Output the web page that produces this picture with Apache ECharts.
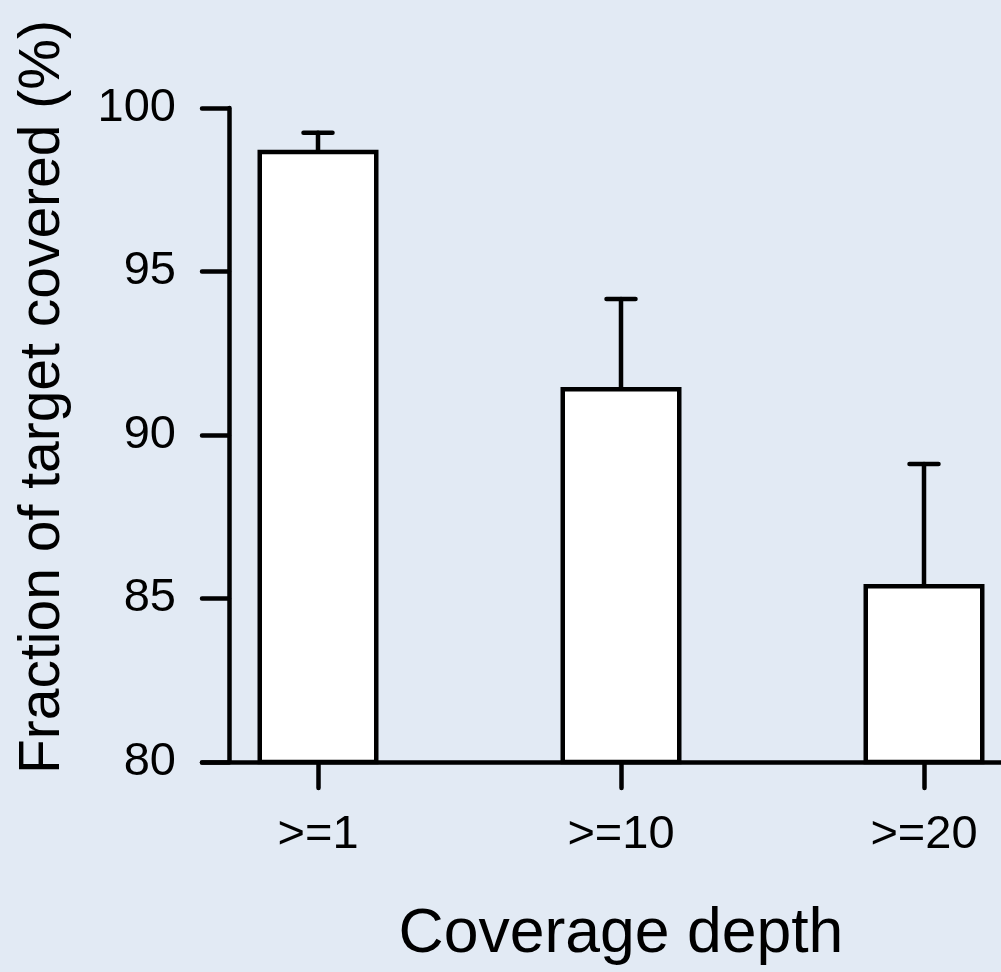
<!DOCTYPE html>
<html>
<head>
<meta charset="utf-8">
<script src="https://cdn.jsdelivr.net/npm/echarts@6/dist/echarts.min.js"></script>
<style>
  html, body { margin: 0; padding: 0; background: #E2EAF4; }
  #chart { width: 1001px; height: 972px; }
</style>
</head>
<body>
<div id="chart"></div>
<script>
const categories = ['>=1', '>=10', '>=20'];
const meanValues = [98.72, 91.47, 85.44];
const upperValues = [99.24, 94.16, 89.11];
const yTicks = [80, 85, 90, 95, 100];

const FONT = '"Liberation Sans", Arial, Helvetica, sans-serif';
const chart = echarts.init(document.getElementById('chart'));

const errorData = categories.map((c, i) => [i, meanValues[i], upperValues[i]]);

chart.setOption({
  backgroundColor: '#E2EAF4',
  animation: false,
  grid: [
    { left: 166.5, width: 909, top: 108, bottom: 210, outerBoundsMode: 'none', containLabel: false },
    { left: 202, right: 0, top: 108, bottom: 210, outerBoundsMode: 'none', containLabel: false }
  ],
  xAxis: [
    {
      type: 'category',
      gridIndex: 0,
      data: categories,
      axisLine: { show: false },
      axisTick: { show: true, alignWithLabel: true, length: 26, lineStyle: { color: '#000', width: 4.5, cap: 'round' } },
      axisLabel: { color: '#000', fontSize: 47, fontFamily: FONT, margin: 50 },
      name: 'Coverage depth',
      nameLocation: 'middle',
      nameGap: 141,
      nameTextStyle: { color: '#000', fontSize: 62.5, fontFamily: FONT }
    },
    {
      type: 'value',
      gridIndex: 1,
      min: 0, max: 1,
      axisLine: { show: true, onZero: false, lineStyle: { color: '#000', width: 4.5, cap: 'round' } },
      axisTick: { show: false },
      axisLabel: { show: false },
      splitLine: { show: false }
    }
  ],
  yAxis: [
    {
      type: 'value',
      gridIndex: 0,
      min: 80, max: 100, interval: 5,
      offset: -62.5,
      axisLine: { show: true, lineStyle: { color: '#000', width: 4.5, cap: 'round' } },
      axisTick: { show: true, length: 27, lineStyle: { color: '#000', width: 4.5, cap: 'round' } },
      axisLabel: {
        color: '#000', fontSize: 47, fontFamily: FONT, margin: 53,
        customValues: yTicks
      },
      splitLine: { show: false },
      name: 'Fraction of target covered (%)',
      nameLocation: 'middle',
      nameGap: 157,
      nameTextStyle: { color: '#000', fontSize: 57, fontFamily: FONT, padding: [0, 0, 0, 76] }
    },
    {
      type: 'value', gridIndex: 1, show: false, min: 0, max: 1
    }
  ],
  series: [
    {
      type: 'custom',
      xAxisIndex: 0, yAxisIndex: 0,
      z: 1,
      data: errorData,
      renderItem: function (params, api) {
        const x = api.value(0);
        const p0 = api.coord([x, api.value(1)]);
        const p1 = api.coord([x, api.value(2)]);
        const half = 14.5;
        const style = { stroke: '#000', lineWidth: 4.5, lineCap: 'round' };
        return {
          type: 'group',
          children: [
            { type: 'line', shape: { x1: p0[0], y1: p0[1], x2: p1[0], y2: p1[1] }, style: style },
            { type: 'line', shape: { x1: p1[0] - half, y1: p1[1], x2: p1[0] + half, y2: p1[1] }, style: style }
          ]
        };
      }
    },
    {
      type: 'bar',
      xAxisIndex: 0, yAxisIndex: 0,
      z: 2,
      barWidth: 121,
      data: meanValues,
      itemStyle: { color: '#fff', borderColor: '#000', borderWidth: 4.5 }
    }
  ]
});
</script>
</body>
</html>
